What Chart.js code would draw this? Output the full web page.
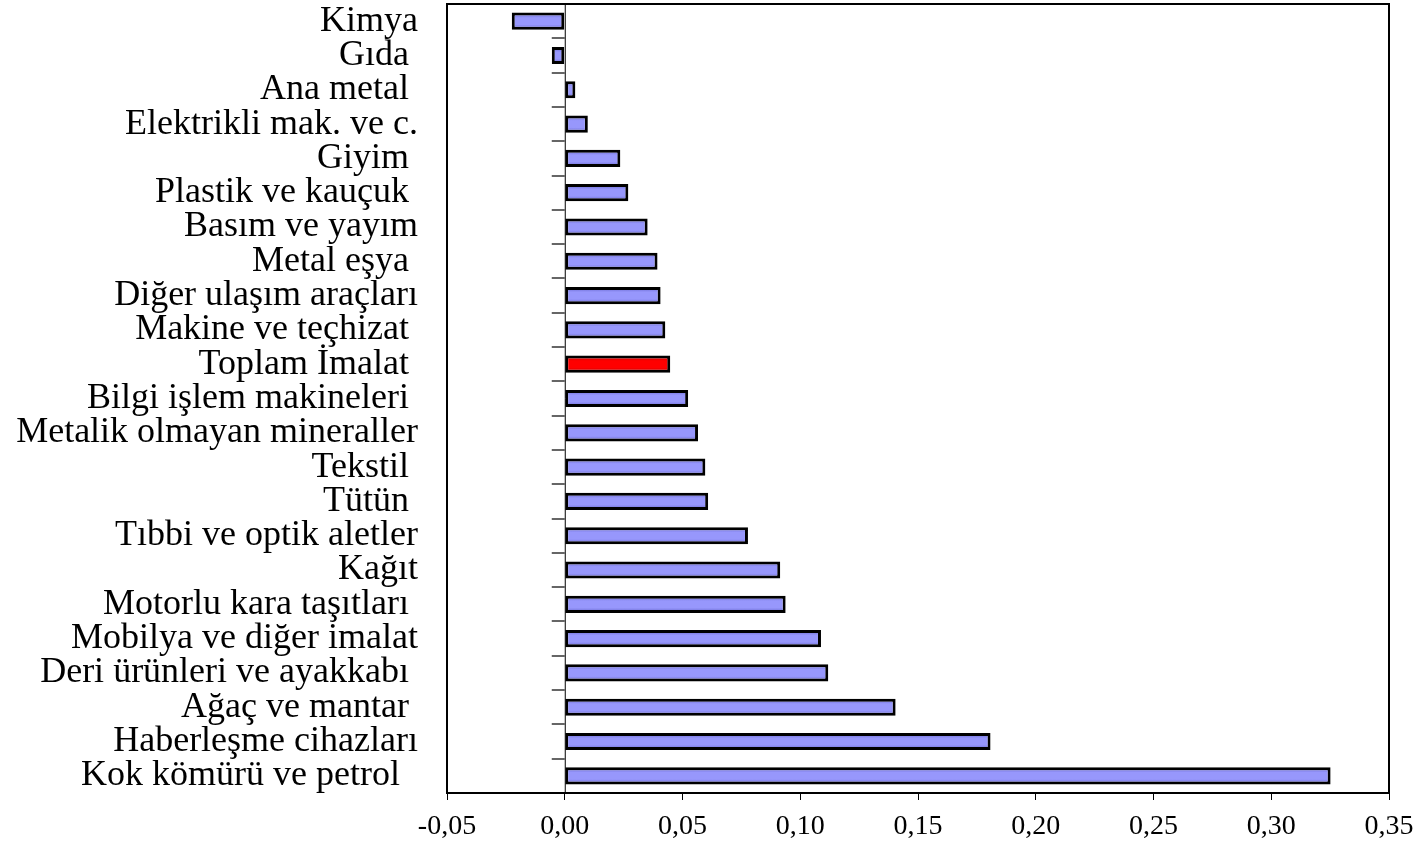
<!DOCTYPE html>
<html>
<head>
<meta charset="utf-8">
<script src="https://cdn.jsdelivr.net/npm/chart.js@4.4.0/dist/chart.umd.min.js"></script>
<style>
  html, body { margin: 0; padding: 0; background: #fff; }
  #wrap { width: 1427px; height: 847px; }
</style>
</head>
<body>
<div id="wrap"><canvas id="mainChart" width="1427" height="847"></canvas></div>
<script>
// Sector labels, top to bottom (trailing spaces kept as in the original)
const sectors = [
    'Kimya', 'Gıda ', 'Ana metal ', 'Elektrikli mak. ve c.', 'Giyim ',
    'Plastik ve kauçuk ', 'Basım ve yayım', 'Metal eşya ', 'Diğer ulaşım araçları',
    'Makine ve teçhizat ', 'Toplam İmalat ', 'Bilgi işlem makineleri ',
    'Metalik olmayan mineraller', 'Tekstil ', 'Tütün ', 'Tıbbi ve optik aletler',
    'Kağıt', 'Motorlu kara taşıtları ', 'Mobilya ve diğer imalat',
    'Deri ürünleri ve ayakkabı ', 'Ağaç ve mantar ', 'Haberleşme cihazları',
    'Kok kömürü ve petrol  '
];

const values = [
    -0.0225, -0.0055, 0.0045, 0.0098, 0.0236,
    0.0270, 0.0352, 0.0394, 0.0407,
    0.0427, 0.0448, 0.0524,
    0.0566, 0.0597, 0.0609, 0.0778,
    0.0915, 0.0938, 0.1088,
    0.1119, 0.1405, 0.1808,
    0.3252
];

// highlighted bar (total manufacturing)
const highlight = 'Toplam İmalat ';

const xMin = -0.05;
const xMax = 0.35;
const xStep = 0.05;

const serif = 'Liberation Serif';

function barFill(context) {
    const chart = context.chart;
    const isRed = sectors[context.dataIndex] === highlight;
    const light = isRed ? '#ff0000' : '#9797fc';
    const dark = isRed ? '#b80000' : '#6262c8';
    if (!chart.chartArea || !chart.scales.y) {
        return light;
    }
    const yc = chart.scales.y.getPixelForValue(context.dataIndex);
    const half = 8.5;
    const g = chart.ctx.createLinearGradient(0, yc - half, 0, yc + half);
    g.addColorStop(0, dark);
    g.addColorStop(0.3, light);
    g.addColorStop(0.7, light);
    g.addColorStop(1, dark);
    return g;
}

// zero line, category tick marks and plot frame
const framePlugin = {
    id: 'frame',
    beforeDatasetsDraw(chart) {
        const { ctx, chartArea, scales } = chart;
        const x0 = scales.x.getPixelForValue(0);
        ctx.save();
        ctx.strokeStyle = '#000';
        ctx.lineWidth = 1;
        ctx.beginPath();
        ctx.moveTo(x0 + 0.5, chartArea.top);
        ctx.lineTo(x0 + 0.5, chartArea.bottom);
        ctx.stroke();
        ctx.strokeStyle = '#333';
        ctx.lineWidth = 1.5;
        for (let i = 1; i < sectors.length; i++) {
            const y = Math.round(scales.y.getPixelForValue(i - 0.5));
            ctx.beginPath();
            ctx.moveTo(x0 - 13, y);
            ctx.lineTo(x0, y);
            ctx.stroke();
        }
        ctx.restore();
    },
    afterDraw(chart) {
        const { ctx, chartArea } = chart;
        ctx.save();
        ctx.strokeStyle = '#000';
        ctx.lineWidth = 2;
        ctx.strokeRect(chartArea.left, chartArea.top, chartArea.right - chartArea.left, chartArea.bottom - chartArea.top);
        ctx.restore();
    }
};

const ctx = document.getElementById('mainChart');

new Chart(ctx, {
    type: 'bar',
    data: {
        labels: sectors,
        datasets: [{
            data: values,
            backgroundColor: barFill,
            borderColor: '#000',
            borderWidth: 3,
            borderSkipped: false,
            barPercentage: 0.5,
            categoryPercentage: 1
        }]
    },
    options: {
        indexAxis: 'y',
        responsive: false,
        animation: false,
        maintainAspectRatio: false,
        layout: {
            padding: { top: 4, right: 38, bottom: 0, left: 0 }
        },
        plugins: {
            legend: { display: false },
            tooltip: { enabled: false }
        },
        scales: {
            x: {
                min: xMin,
                max: xMax,
                afterFit(scale) {
                    scale.height = 54;
                    scale.paddingLeft = 0;
                    scale.paddingRight = 0;
                },
                afterBuildTicks(scale) {
                    const t = [];
                    for (let i = 0; i <= Math.round((xMax - xMin) / xStep); i++) {
                        t.push({ value: +(xMin + i * xStep).toFixed(2) });
                    }
                    scale.ticks = t;
                },
                grid: {
                    drawOnChartArea: false,
                    drawTicks: true,
                    tickLength: 7,
                    color: '#000',
                    lineWidth: 1
                },
                border: { display: true, color: '#000', width: 2 },
                ticks: {
                    color: '#000',
                    padding: 10,
                    maxRotation: 0,
                    font: { family: serif, size: 28 },
                    callback: v => v.toFixed(2).replace('.', ',')
                }
            },
            y: {
                afterFit(scale) {
                    scale.width = 447;
                    scale.paddingTop = 0;
                    scale.paddingBottom = 0;
                },
                grid: { display: false, drawTicks: false },
                border: { display: true, color: '#000', width: 2 },
                ticks: {
                    color: '#000',
                    padding: 29,
                    autoSkip: false,
                    font: { family: serif, size: 36 }
                }
            }
        }
    },
    plugins: [framePlugin]
});
</script>
</body>
</html>
